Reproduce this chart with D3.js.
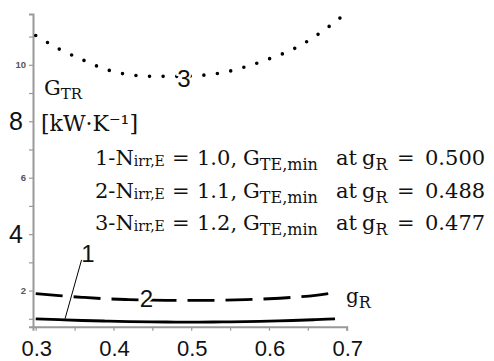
<!DOCTYPE html>
<html>
<head>
<meta charset="utf-8">
<script src="https://cdn.jsdelivr.net/npm/d3@7"></script>
<style>
  body { margin: 0; background: #fff; }
  svg { display: block; }
  .serif { font-family: "DejaVu Serif", "Liberation Serif", serif; fill: #111; }
  .sans { font-family: "Liberation Sans", Arial, sans-serif; fill: #111; }
</style>
</head>
<body>
<svg id="chart"></svg>
<script>
// values
var gR = [0.30, 0.33, 0.36, 0.39, 0.42, 0.45, 0.48, 0.51, 0.54, 0.57, 0.60, 0.63, 0.66, 0.685];
var G1 = [1.00, 0.97, 0.94, 0.92, 0.90, 0.89, 0.885, 0.885, 0.89, 0.90, 0.92, 0.94, 0.97, 1.00];
var G2 = [1.89, 1.82, 1.76, 1.71, 1.68, 1.66, 1.65, 1.65, 1.66, 1.68, 1.71, 1.76, 1.83, 1.93];
var gR3 = [0.30, 0.33, 0.36, 0.39, 0.42, 0.45, 0.48, 0.51, 0.54, 0.57, 0.60, 0.63, 0.66, 0.692];
var G3 = [11.04, 10.56, 10.18, 9.84, 9.65, 9.59, 9.59, 9.62, 9.72, 9.93, 10.21, 10.54, 11.02, 11.67];

var xTicks = [0.30, 0.35, 0.40, 0.45, 0.50, 0.55, 0.60, 0.65, 0.70];
var xLabels = [0.3, 0.4, 0.5, 0.6, 0.7];
var yTicks = [1, 2, 3, 4, 5, 6, 7, 8, 9, 10, 11];
var yBigLabels = [4, 8];
var ySmallLabels = [2, 6, 10];

var legendN = ["1.0", "1.1", "1.2"];
var legendG = ["0.500", "0.488", "0.477"];

function chart() {
  var width = 494, height = 361;
  var svg = d3.select("#chart").attr("width", width).attr("height", height);

  var x = d3.scaleLinear().domain([0.2965, 0.70]).range([33, 346.7]);
  var y = d3.scaleLinear().domain([0.72, 11.8]).range([326.7, 14]);

  // axes
  var xAxis = d3.axisBottom(x).tickValues(xTicks).tickSize(4).tickFormat("");
  var gx = svg.append("g").attr("transform", "translate(0," + y(0.72) + ")").call(xAxis);
  var yAxis = d3.axisLeft(y).tickValues(yTicks).tickSize(4).tickFormat("");
  var gy = svg.append("g").attr("transform", "translate(" + x(0.2965) + ",0)").call(yAxis);
  [gx, gy].forEach(function(g) {
    g.select(".domain").attr("stroke", "#999").attr("stroke-width", 2);
    g.selectAll(".tick line").attr("stroke", "#999").attr("stroke-width", 1.2);
  });

  svg.selectAll(".xlab").data(xLabels).enter().append("text")
    .attr("class", "sans")
    .attr("x", function(d) { return x(d) + 1; })
    .attr("y", 356)
    .attr("text-anchor", "middle")
    .attr("font-size", 22)
    .text(function(d) { return d.toFixed(1); });

  svg.selectAll(".ybig").data(yBigLabels).enter().append("text")
    .attr("class", "sans")
    .attr("x", 23)
    .attr("y", function(d) { return y(d) + 9; })
    .attr("text-anchor", "end")
    .attr("font-size", 25)
    .text(function(d) { return d; });

  svg.selectAll(".ysmall").data(ySmallLabels).enter().append("text")
    .attr("class", "sans")
    .attr("x", 26)
    .attr("y", function(d) { return y(d) + 3.5; })
    .attr("text-anchor", "end")
    .attr("font-size", 9.5)
    .attr("font-weight", "bold")
    .style("fill", "#555")
    .text(function(d) { return d; });

  // curves
  var line = d3.line().x(function(d) { return x(d[0]); }).y(function(d) { return y(d[1]); })
    .curve(d3.curveMonotoneX);

  svg.append("path").datum(d3.zip(gR, G1)).attr("d", line)
    .attr("fill", "none").attr("stroke", "#000").attr("stroke-width", 2.8);
  svg.append("path").datum(d3.zip(gR, G2)).attr("d", line)
    .attr("fill", "none").attr("stroke", "#000").attr("stroke-width", 2.8)
    .attr("stroke-dasharray", "27,11");
  svg.append("path").datum(d3.zip(gR3, G3)).attr("d", line)
    .attr("fill", "none").attr("stroke", "#000").attr("stroke-width", 3.6)
    .attr("stroke-linecap", "round").attr("stroke-dasharray", "0,13.6");

  // curve numbers, with a white halo so the line breaks around them
  var nums = [["1", 0.367, 3.34], ["2", 0.4425, 1.74], ["3", 0.4907, 9.54]];
  svg.selectAll(".num").data(nums).enter().append("text")
    .attr("class", "sans")
    .attr("x", function(d) { return x(d[1]); })
    .attr("y", function(d) { return y(d[2]) + 9; })
    .attr("text-anchor", "middle")
    .attr("font-size", 24)
    .attr("stroke", "#fff").attr("stroke-width", 4)
    .style("paint-order", "stroke")
    .text(function(d) { return d[0]; });

  svg.append("line")
    .attr("x1", x(0.359)).attr("y1", y(3.09))
    .attr("x2", x(0.3377)).attr("y2", y(1.0))
    .attr("stroke", "#000").attr("stroke-width", 1);

  // axis titles
  var gt = svg.append("text").attr("class", "serif").attr("x", 44).attr("y", 95).attr("font-size", 21);
  gt.append("tspan").text("G");
  gt.append("tspan").attr("font-size", 15).attr("dy", 4).text("TR");
  svg.append("text").attr("class", "serif").attr("x", 41).attr("y", 131).attr("font-size", 22)
    .text("[kW\u00b7K\u207b\u00b9]");

  var gl = svg.append("text").attr("class", "serif").attr("x", 346).attr("y", 303).attr("font-size", 20);
  gl.append("tspan").text("g");
  gl.append("tspan").attr("font-size", 16).attr("dy", 5).text("R");

  // legend lines, pieces placed like the math layout
  legendN.forEach(function(n, i) {
    var base = 165 + i * 32.5;
    var t = svg.append("text").attr("class", "serif").attr("y", base).attr("font-size", 21);
    t.append("tspan").attr("x", 95).text((i + 1) + "-N");
    t.append("tspan").attr("font-size", 14).attr("y", base + 1).text("irr,E");
    t.append("tspan").attr("x", 172).attr("y", base).text("=");
    t.append("tspan").attr("x", 197).text(n + ",");
    t.append("tspan").attr("x", 243).text("G");
    t.append("tspan").attr("font-size", 16).attr("y", base + 5).text("TE,min");
    t.append("tspan").attr("x", 336).attr("y", base).text("at");
    t.append("tspan").attr("x", 362).text("g");
    t.append("tspan").attr("font-size", 16).attr("y", base + 5).text("R");
    t.append("tspan").attr("x", 397).attr("y", base).text("=");
    t.append("tspan").attr("x", 425).text(legendG[i]);
  });
}

chart();
</script>
</body>
</html>
